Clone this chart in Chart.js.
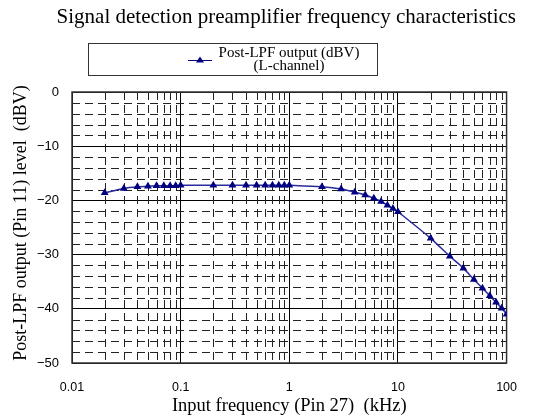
<!DOCTYPE html>
<html>
<head>
<meta charset="utf-8">
<script src="https://cdn.jsdelivr.net/npm/chart.js@4.4.1/dist/chart.umd.min.js"></script>
<style>
  html, body { margin: 0; padding: 0; background: #fff; }
  #wrap { width: 534px; height: 419px; }
</style>
</head>
<body>
<div id="wrap"><canvas id="chart" width="534" height="419"></canvas></div>
<script>
// ---- data ----
const freqKHz = [
  0.02, 0.03, 0.04, 0.05, 0.06, 0.07, 0.08, 0.09,
  0.1, 0.2, 0.3, 0.4, 0.5, 0.6, 0.7, 0.8, 0.9,
  1, 2, 3, 4, 5, 6, 7, 8, 9,
  10, 20, 30, 40, 50, 60, 70, 80, 90,
  100
];
const outputDbv = [
  -18.6, -17.8, -17.5, -17.4, -17.3, -17.3, -17.3, -17.3,
  -17.2, -17.2, -17.2, -17.2, -17.2, -17.2, -17.2, -17.2, -17.2,
  -17.2, -17.5, -17.9, -18.5, -19.0, -19.6, -20.2, -20.9, -21.5,
  -22.1, -27.0, -30.3, -32.5, -34.6, -36.2, -37.6, -38.8, -39.9,
  -41.0
];
const xTickValues = [0.01, 0.1, 1, 10, 100];
const xTickLabels = ["0.01", "0.1", "1", "10", "100"];
const yTickValues = [0, -10, -20, -30, -40, -50];
const yTickLabels = ["0", "\u221210", "\u221220", "\u221230", "\u221240", "\u221250"];

const titleText = "Signal detection preamplifier frequency characteristics";
const seriesLabel = ["Post-LPF output (dBV)", "(L-channel)"];
const xTitle = "Input frequency (Pin 27)  (kHz)";
const yTitle = "Post-LPF output (Pin 11) level  (dBV)";

const NAVY = "#000080";
const SERIF = "'Liberation Serif', 'Times New Roman', serif";
const SANS = "'Liberation Sans', Arial, sans-serif";

// minor grid (dashed) + plot frame
const minorGrid = {
  id: "minorGrid",
  beforeDatasetsDraw(chart) {
    const { ctx, chartArea: a, scales: { x, y } } = chart;
    ctx.save();
    ctx.strokeStyle = "#222";
    ctx.lineWidth = 1;
    ctx.setLineDash([8, 5]);
    for (let d = 0; d < xTickValues.length - 1; d++) {
      for (let m = 2; m <= 9; m++) {
        const px = Math.round(x.getPixelForValue(xTickValues[d] * m)) + 0.5;
        ctx.beginPath();
        ctx.moveTo(px, a.top);
        ctx.lineTo(px, a.bottom);
        ctx.stroke();
      }
    }
    for (let v = -48; v < 0; v += 2) {
      if (v % 10 === 0) continue;
      const py = Math.round(y.getPixelForValue(v)) + 0.5;
      ctx.beginPath();
      ctx.moveTo(a.left, py);
      ctx.lineTo(a.right, py);
      ctx.stroke();
    }
    ctx.setLineDash([]);
    ctx.strokeStyle = "#333";
    ctx.lineWidth = 1.5;
    ctx.strokeRect(a.left, a.top, a.right - a.left, a.bottom - a.top);
    ctx.restore();
  }
};

// title, legend box, axis titles
const labelsPlugin = {
  id: "labels",
  afterDraw(chart) {
    const { ctx, chartArea: a } = chart;
    const cx = (a.left + a.right) / 2;
    ctx.save();
    ctx.fillStyle = "#000";
    ctx.textAlign = "center";
    ctx.textBaseline = "middle";

    ctx.font = "21px " + SERIF;
    ctx.fillText(titleText, cx - 3, 17);

    // legend
    ctx.strokeStyle = "#333";
    ctx.lineWidth = 1;
    ctx.strokeRect(88.5, 43.5, 289, 32);
    ctx.strokeStyle = NAVY;
    ctx.beginPath();
    ctx.moveTo(188, 60.5);
    ctx.lineTo(212, 60.5);
    ctx.stroke();
    ctx.fillStyle = NAVY;
    ctx.beginPath();
    ctx.moveTo(200, 56.5);
    ctx.lineTo(204, 62.5);
    ctx.lineTo(196, 62.5);
    ctx.closePath();
    ctx.fill();
    ctx.fillStyle = "#000";
    ctx.font = "15px " + SERIF;
    ctx.fillText(seriesLabel[0], 289, 53);
    ctx.fillText(seriesLabel[1], 289, 66);

    // axis titles
    ctx.font = "18.5px " + SERIF;
    ctx.fillText(xTitle, cx, 406);
    ctx.translate(21, 223);
    ctx.rotate(-Math.PI / 2);
    ctx.font = "18px " + SERIF;
    ctx.fillText(yTitle, 0, 0);
    ctx.restore();
  }
};

const ctx = document.getElementById("chart");
new Chart(ctx, {
  type: "line",
  data: {
    datasets: [{
      label: seriesLabel.join(" "),
      data: freqKHz.map((f, i) => ({ x: f, y: outputDbv[i] })),
      borderColor: "#2b2b9c",
      backgroundColor: NAVY,
      borderWidth: 1.5,
      tension: 0.3,
      pointStyle: "triangle",
      pointRadius: 4.5,
      pointBorderWidth: 0,
      pointBackgroundColor: NAVY,
      fill: false
    }]
  },
  options: {
    responsive: false,
    animation: false,
    devicePixelRatio: 1,
    layout: { padding: { top: 92, right: 27, bottom: 0, left: 0 } },
    plugins: {
      legend: { display: false },
      title: { display: false },
      tooltip: { enabled: false }
    },
    scales: {
      x: {
        type: "logarithmic",
        min: 0.01,
        max: 100,
        afterBuildTicks: (s) => { s.ticks = xTickValues.map(v => ({ value: v })); },
        afterFit: (s) => { s.height = 56; },
        grid: { color: "#000", lineWidth: 1, drawTicks: false },
        border: { display: false },
        ticks: {
          padding: 17,
          color: "#000",
          font: { family: SANS, size: 12.5 },
          maxRotation: 0,
          autoSkip: false,
          callback: (v) => {
            const i = xTickValues.findIndex(t => Math.abs(t - v) < t * 1e-6);
            return i >= 0 ? xTickLabels[i] : "";
          }
        }
      },
      y: {
        min: -50,
        max: 0,
        afterBuildTicks: (s) => { s.ticks = yTickValues.map(v => ({ value: v })); },
        afterFit: (s) => { s.width = 72; },
        grid: { color: "#000", lineWidth: 1, drawTicks: false },
        border: { display: false },
        ticks: {
          padding: 13,
          color: "#000",
          font: { family: SANS, size: 13 },
          callback: (v) => {
            const i = yTickValues.indexOf(v);
            return i >= 0 ? yTickLabels[i] : "";
          }
        }
      }
    }
  },
  plugins: [minorGrid, labelsPlugin]
});
</script>
</body>
</html>
